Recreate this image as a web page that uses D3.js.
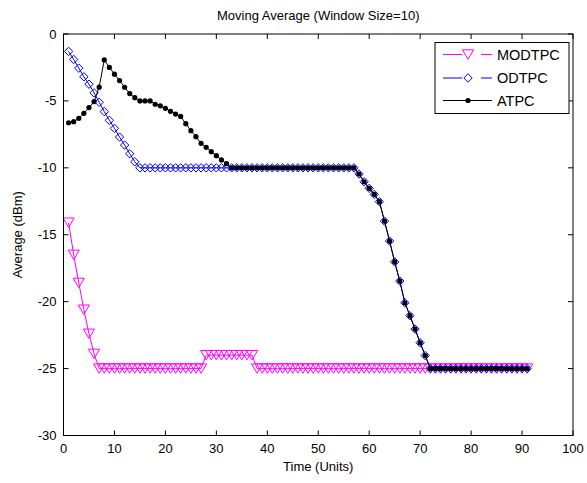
<!DOCTYPE html>
<html><head><meta charset="utf-8">
<script src="https://cdn.jsdelivr.net/npm/d3@7"></script>
<style>body{margin:0;background:#fff}svg{display:block}text{font-family:"Liberation Sans",Arial,sans-serif;fill:#000}</style>
</head><body><svg id="c" width="587" height="483"></svg>
<script>
// ---- data ----
const timeSteps = d3.range(1, 92); // 1..91
const seriesNames = ["MODTPC", "ODTPC", "ATPC"];
const xTicks = [0,10,20,30,40,50,60,70,80,90,100];
const yTicks = [0,-5,-10,-15,-20,-25,-30];

const declineTail = [-10.46,-11.04,-11.53,-11.98,-12.53,-13.98,-15.47,-17.03,-18.46,-20.08,-21.05,-22.05,-23.07,-24.03]; // t=58..71

const modtpc = [-14.1,-16.5,-18.6,-20.6,-22.4,-23.9,
  -25,-25,-25,-25,-25,-25,-25,-25,-25,-25,-25,-25,-25,-25,-25,-25,-25,-25,-25,-25,-25,
  -24,-24,-24,-24,-24,-24,-24,-24,-24,-24,
  -25,-25,-25,-25,-25,-25,-25,-25,-25,-25,-25,-25,-25,-25,-25,-25,-25,-25,-25,-25,
  -25,-25,-25,-25,-25,-25,-25,-25,-25,-25,-25,-25,-25,-25,-25,-25,-25,-25,-25,-25,
  -25,-25,-25,-25,-25,-25,-25,-25,-25,-25,-25,-25,-25,-25];

const odtpc = [-1.3,-1.9,-2.55,-3.2,-3.75,-4.4,-5.1,-5.8,-6.45,-7.05,-7.7,-8.3,-8.95,-9.55,
  -10,-10,-10,-10,-10,-10,-10,-10,-10,-10,-10,-10,-10,-10,-10,-10,-10,-10,-10,-10,-10,-10,
  -10,-10,-10,-10,-10,-10,-10,-10,-10,-10,-10,-10,-10,-10,-10,-10,-10,-10,-10,-10,-10,
  -10.46,-11.04,-11.53,-11.98,-12.53,-13.98,-15.47,-17.03,-18.46,-20.08,-21.05,-22.05,-23.07,-24.03,
  -25,-25,-25,-25,-25,-25,-25,-25,-25,-25,-25,-25,-25,-25,-25,-25,-25,-25,-25,-25];

const atpc = [-6.63,-6.55,-6.3,-5.93,-5.5,-5.05,-3.97,-1.94,-2.5,-3.0,-3.48,-3.98,-4.45,-4.76,
  -5.0,-5.0,-5.0,-5.25,-5.37,-5.55,-5.78,-5.98,-6.16,-6.7,-7.22,-7.67,-8.17,-8.47,-8.79,-9.09,-9.41,-9.69,
  -10,-10,-10,-10,-10,-10,-10,-10,-10,-10,-10,-10,-10,-10,-10,-10,-10,-10,-10,-10,-10,-10,-10,-10,-10,
  -10.46,-11.04,-11.53,-11.98,-12.53,-13.98,-15.47,-17.03,-18.46,-20.08,-21.05,-22.05,-23.07,-24.03,
  -25,-25,-25,-25,-25,-25,-25,-25,-25,-25,-25,-25,-25,-25,-25,-25,-25,-25,-25,-25];

// ---- layout ----
const L = 63.5, R = 573, T = 34, B = 435.5;
const x = d3.scaleLinear().domain([0,100]).range([L,R]);
const y = d3.scaleLinear().domain([-30,0]).range([B,T]);
const svg = d3.select("#c");

const colors = {MODTPC:"#ff00ff", ODTPC:"#0000ff", ATPC:"#000000"};
const dataBy = {MODTPC:modtpc, ODTPC:odtpc, ATPC:atpc};

const tri = d3.symbol().type({draw(ctx){ // downward triangle, bbox centered
  const w=5.6,h=4.7; ctx.moveTo(-w,-h); ctx.lineTo(w,-h); ctx.lineTo(0,h); ctx.closePath();}})();
const dia = d3.symbol().type({draw(ctx){const r=4.2; ctx.moveTo(0,-r); ctx.lineTo(r,0); ctx.lineTo(0,r); ctx.lineTo(-r,0); ctx.closePath();}})();

function drawMarker(g, name, cx, cy){
  if(name==="MODTPC") g.append("path").attr("d",tri).attr("transform",`translate(${cx},${cy})`).attr("fill","none").attr("stroke",colors[name]).attr("stroke-width",1);
  else if(name==="ODTPC") g.append("path").attr("d",dia).attr("transform",`translate(${cx},${cy})`).attr("fill","none").attr("stroke",colors[name]).attr("stroke-width",1);
  else g.append("circle").attr("cx",cx).attr("cy",cy).attr("r",2.6).attr("fill","#000");
}

// frame background
svg.append("rect").attr("x",L).attr("y",T).attr("width",R-L).attr("height",B-T).attr("fill","#fff");

// series
const line = d3.line().x((d,i)=>x(timeSteps[i])).y(d=>y(d));
seriesNames.forEach(name=>{
  const g = svg.append("g");
  g.append("path").attr("d",line(dataBy[name])).attr("fill","none").attr("stroke",colors[name]).attr("stroke-width",1);
  dataBy[name].forEach((v,i)=>drawMarker(g,name,x(timeSteps[i]),y(v)));
});

// axes box + ticks
const ax = svg.append("g").attr("stroke","#000").attr("stroke-width",1).attr("fill","none");
ax.append("rect").attr("x",L).attr("y",T).attr("width",R-L).attr("height",B-T);
xTicks.forEach(t=>{
  ax.append("line").attr("x1",x(t)).attr("x2",x(t)).attr("y1",B).attr("y2",B-5);
  ax.append("line").attr("x1",x(t)).attr("x2",x(t)).attr("y1",T).attr("y2",T+5);
  svg.append("text").attr("x",x(t)).attr("y",B+17).attr("text-anchor","middle").attr("font-size",13).text(t);
});
yTicks.forEach(t=>{
  ax.append("line").attr("x1",L).attr("x2",L+5).attr("y1",y(t)).attr("y2",y(t));
  ax.append("line").attr("x1",R).attr("x2",R-5).attr("y1",y(t)).attr("y2",y(t));
  svg.append("text").attr("x",L-7).attr("y",y(t)+4.5).attr("text-anchor","end").attr("font-size",13).text(t);
});

// labels
svg.append("text").attr("x",(L+R)/2).attr("y",20).attr("text-anchor","middle").attr("font-size",13).text("Moving Average (Window Size=10)");
svg.append("text").attr("x",(L+R)/2).attr("y",471).attr("text-anchor","middle").attr("font-size",13).text("Time (Units)");
svg.append("text").attr("transform",`translate(22,${(T+B)/2}) rotate(-90)`).attr("text-anchor","middle").attr("font-size",13).text("Average (dBm)");

// legend
const lg = svg.append("g");
lg.append("rect").attr("x",435).attr("y",42.5).attr("width",134).attr("height",71).attr("fill","#fff").attr("stroke","#000").attr("stroke-width",1);
const legY = [54.5, 78, 100.5];
seriesNames.forEach((name,i)=>{
  const yy = legY[i];
  if(name==="ATPC"){
    lg.append("line").attr("x1",443).attr("x2",492).attr("y1",yy).attr("y2",yy).attr("stroke","#000");
  } else {
    lg.append("line").attr("x1",443).attr("x2",462).attr("y1",yy).attr("y2",yy).attr("stroke",colors[name]);
    lg.append("line").attr("x1",481).attr("x2",492).attr("y1",yy).attr("y2",yy).attr("stroke",colors[name]);
  }
  drawMarker(lg,name,468,yy);
  lg.append("text").attr("x",497).attr("y",yy+5).attr("font-size",14.5).text(name);
});
</script></body></html>
